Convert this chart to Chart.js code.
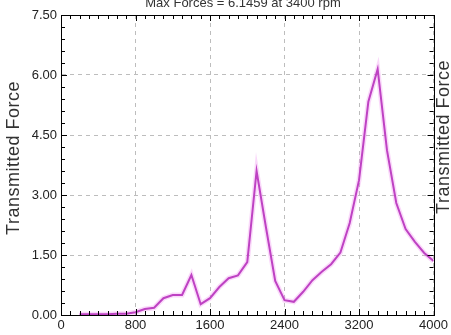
<!DOCTYPE html>
<html>
<head>
<meta charset="utf-8">
<script src="https://cdn.jsdelivr.net/npm/chart.js@4.4.1/dist/chart.umd.min.js"></script>
<style>
html,body{margin:0;padding:0;background:#fff;}
#wrap{width:451px;height:335px;position:relative;}
</style>
</head>
<body>
<div id="wrap"><canvas id="c" width="451" height="335"></canvas></div>
<script>
const chartTitle = "Max Forces = 6.1459 at 3400 rpm";
const axisTitle = "Transmitted Force";
const rpm = [200,300,400,500,600,700,800,900,1000,1100,1200,1300,1400,1500,1600,1700,1800,1900,2000,2100,2200,2300,2400,2500,2600,2700,2800,2900,3000,3100,3200,3300,3400,3500,3600,3700,3800,3900,4000];
const force = [0.02,0.02,0.02,0.02,0.03,0.03,0.07,0.15,0.18,0.42,0.50,0.50,1.00,0.27,0.42,0.70,0.92,0.99,1.32,3.60,2.20,0.85,0.37,0.33,0.58,0.87,1.08,1.27,1.56,2.30,3.37,5.33,6.1459,4.12,2.80,2.15,1.83,1.55,1.35];
const xTicks = [0,800,1600,2400,3200,4000];
const yTicks = [0,1.5,3,4.5,6,7.5];

const pts = rpm.map((r,i)=>({x:r,y:force[i]}));
const FONT = '"Liberation Sans", Arial, sans-serif';

function vText(ctx, text, x, y){
  ctx.save();
  ctx.translate(x, y);
  ctx.rotate(-Math.PI/2);
  ctx.fillText(text, 0, 0);
  ctx.restore();
}

const boxPlugin = {
  id:'boxPlugin',
  afterDraw(chart){
    const ctx = chart.ctx, a = chart.chartArea;
    const xs = chart.scales.x, ys = chart.scales.y;
    ctx.save();
    ctx.strokeStyle = '#000';
    ctx.lineWidth = 1;
    ctx.strokeRect(Math.round(a.left)+0.5, Math.round(a.top)+0.5, Math.round(a.right-a.left), Math.round(a.bottom-a.top));
    ctx.beginPath();
    for(let v=100; v<4000; v+=100){
      const p = Math.round(xs.getPixelForValue(v))+0.5;
      const len = (v%800===0)?6:4;
      ctx.moveTo(p,a.bottom); ctx.lineTo(p,a.bottom-len);
      ctx.moveTo(p,a.top); ctx.lineTo(p,a.top+len);
    }
    for(let k=1; k<25; k++){
      const v = k*0.3;
      const p = Math.round(ys.getPixelForValue(v))+0.5;
      const len = (k%5===0)?6:4;
      ctx.moveTo(a.left,p); ctx.lineTo(a.left+len,p);
      ctx.moveTo(a.right,p); ctx.lineTo(a.right-len,p);
    }
    ctx.stroke();
    // title (cut at top like reference)
    ctx.fillStyle = '#333';
    ctx.font = '13px ' + FONT;
    ctx.textAlign = 'center';
    ctx.textBaseline = 'alphabetic';
    ctx.fillText(chartTitle, 243, 7);
    // axis titles
    ctx.font = '18px ' + FONT;
    try { ctx.letterSpacing = '0.5px'; } catch(e) {}
    vText(ctx, axisTitle, 19, 158);
    vText(ctx, axisTitle, 449, 137);
    ctx.restore();
  }
};

new Chart(document.getElementById('c'), {
  type:'line',
  data:{
    datasets:[
      {data:pts, borderColor:'rgba(238,130,238,0.3)', borderWidth:5, pointRadius:0, tension:0, fill:false},
      {data:pts, borderColor:'#aa28b0', borderWidth:2, pointRadius:0, tension:0, fill:false}
    ]
  },
  options:{
    responsive:false,
    animation:false,
    events:[],
    layout:{padding:{top:15,right:15,left:0,bottom:0}},
    plugins:{legend:{display:false},tooltip:{enabled:false},title:{display:false}},
    scales:{
      x:{
        type:'linear', min:0, max:4000,
        afterFit(s){ s.height = 20; },
        afterBuildTicks(s){ s.ticks = xTicks.map(v=>({value:v})); },
        ticks:{padding:3, maxRotation:0, autoSkip:false, color:'#222', font:{family:FONT, size:13},
          callback:(v)=>String(v)},
        grid:{drawTicks:false, color:'#bdbdbd', lineWidth:1},
        border:{display:true, color:'#000', dash:[4,4]}
      },
      y:{
        type:'linear', min:0, max:7.5,
        afterFit(s){ s.width = 61; },
        afterBuildTicks(s){ s.ticks = yTicks.map(v=>({value:v})); },
        ticks:{padding:4, color:'#222', font:{family:FONT, size:13},
          callback:(v)=>Number(v).toFixed(2)},
        grid:{drawTicks:false, color:'#bdbdbd', lineWidth:1},
        border:{display:true, color:'#000', dash:[4,4]}
      }
    }
  },
  plugins:[boxPlugin]
});
</script>
</body>
</html>
